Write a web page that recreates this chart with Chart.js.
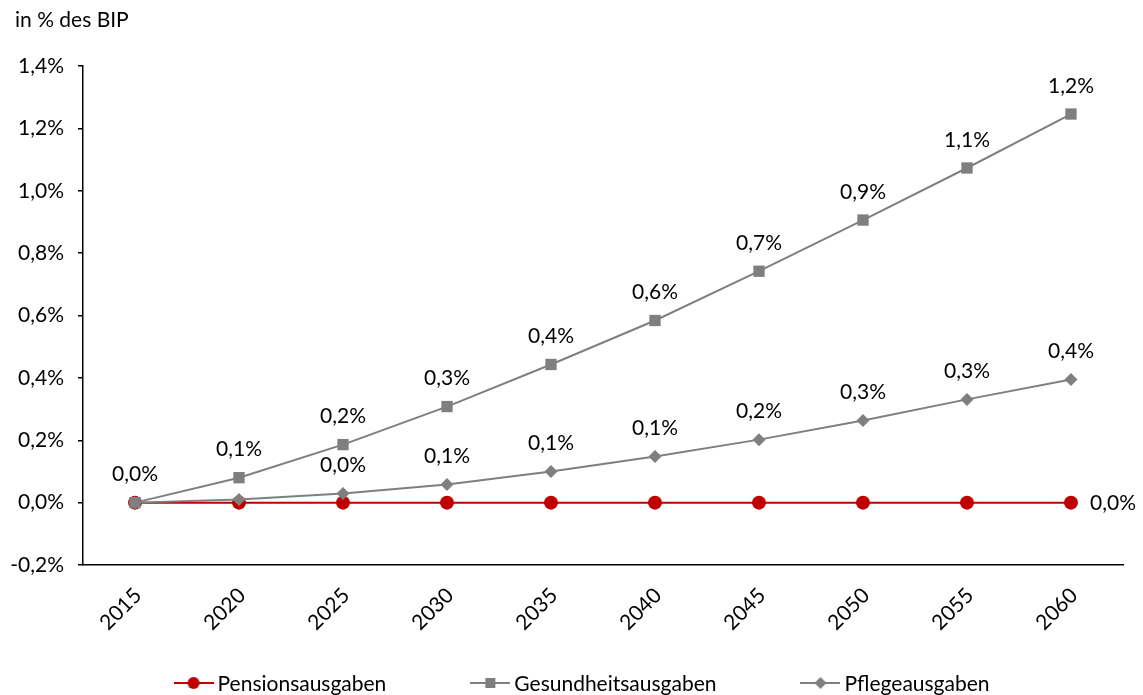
<!DOCTYPE html>
<html><head><meta charset="utf-8">
<script src="https://cdn.jsdelivr.net/npm/chart.js@4"></script>
<style>html,body{margin:0;padding:0;background:#fff}</style>
</head><body>
<canvas id="c" width="1143" height="695"></canvas>
<script>
const years = ['2015','2020','2025','2030','2035','2040','2045','2050','2055','2060'];
const pension = [0,0,0,0,0,0,0,0,0,0];
const gesundheit = [0, 0.080, 0.186, 0.308, 0.443, 0.584, 0.742, 0.906, 1.073, 1.246];
const pflege = [0, 0.010, 0.029, 0.058, 0.100, 0.148, 0.202, 0.263, 0.331, 0.395];
const seriesNames = ['Pensionsausgaben','Gesundheitsausgaben','Pflegeausgaben'];
const yTitle = 'in % des BIP';
const yMin = -0.2, yMax = 1.4, yStep = 0.2;
// which points carry a value label, and where
const pensionLabelIdx = [9];
const gesundheitLabelIdx = [0,1,2,3,4,5,6,7,8,9];
const pflegeLabelIdx = [2,3,4,5,6,7,8,9];

const FONT = 'Lato';
const FS = 21;
const RED = '#C00000', GREY = '#7F7F7F';
const fmt = v => { let r = Math.round(v * 10) / 10; if (r === 0) r = 0; return r.toFixed(1).replace('.', ',') + '%'; };

const valueLabels = {
  id: 'valueLabels',
  afterDatasetsDraw(chart) {
    const ctx = chart.ctx;
    ctx.save();
    ctx.font = FS + 'px ' + FONT;
    ctx.fillStyle = '#000';
    chart.data.datasets.forEach((ds, di) => {
      const meta = chart.getDatasetMeta(di);
      (ds.labelIdx || []).forEach(i => {
        const pt = meta.data[i];
        if (ds.labelPos === 'right') {
          ctx.textAlign = 'left'; ctx.textBaseline = 'middle';
          ctx.fillText(fmt(ds.data[i]), pt.x + 19, pt.y + 1);
        } else {
          ctx.textAlign = 'center'; ctx.textBaseline = 'middle';
          ctx.fillText(fmt(ds.data[i]), pt.x, pt.y - 28);
        }
      });
    });
    ctx.restore();
  }
};

const axisTitle = {
  id: 'axisTitle',
  afterDraw(chart) {
    const ctx = chart.ctx;
    ctx.save();
    ctx.font = FS + 'px ' + FONT;
    ctx.fillStyle = '#000'; ctx.textAlign = 'left'; ctx.textBaseline = 'middle';
    ctx.fillText(yTitle, 15, 20);
    ctx.restore();
  }
};

function legendIcon(color, style, r) {
  const c = document.createElement('canvas');
  c.width = 40; c.height = 18;
  const g = c.getContext('2d');
  g.strokeStyle = color; g.lineWidth = 2;
  g.beginPath(); g.moveTo(0, 9); g.lineTo(40, 9); g.stroke();
  g.fillStyle = color;
  g.beginPath();
  if (style === 'circle') g.arc(20, 9, r, 0, Math.PI * 2);
  else if (style === 'rect') g.rect(20 - r, 9 - r, 2 * r, 2 * r);
  else { g.moveTo(20, 9 - r); g.lineTo(20 + r, 9); g.lineTo(20, 9 + r); g.lineTo(20 - r, 9); g.closePath(); }
  g.fill();
  return c;
}

const customLegend = {
  id: 'customLegend',
  afterDraw(chart) {
    const ctx = chart.ctx;
    ctx.save();
    ctx.font = FS + 'px ' + FONT;
    const iconW = 40, gapIcon = 4, gapItem = 84;
    const items = chart.data.datasets.map(ds => ({ds, w: iconW + gapIcon + ctx.measureText(ds.label).width}));
    const total = items.reduce((s, it) => s + it.w, 0) + gapItem * (items.length - 1);
    let x = chart.width / 2 + 10 - total / 2;
    const y = 683;
    items.forEach(it => {
      ctx.drawImage(it.ds.legendIcon, x, y - 9);
      ctx.fillStyle = '#000'; ctx.textAlign = 'left'; ctx.textBaseline = 'middle';
      ctx.fillText(it.ds.label, x + iconW + gapIcon, y + 1);
      x += it.w + gapItem;
    });
    ctx.restore();
  }
};

new Chart(document.getElementById('c'), {
  type: 'line',
  data: {
    labels: years,
    datasets: [
      { label: seriesNames[0], data: pension, order: 3, borderColor: RED, backgroundColor: RED, borderWidth: 2,
        pointStyle: 'circle', pointRadius: 7, pointBorderWidth: 0, labelIdx: pensionLabelIdx, labelPos: 'right',
        legendIcon: legendIcon(RED, 'circle', 6) },
      { label: seriesNames[1], data: gesundheit, order: 2, borderColor: GREY, backgroundColor: GREY, borderWidth: 2,
        pointStyle: 'rect', pointRadius: 8, pointBorderWidth: 0, labelIdx: gesundheitLabelIdx,
        legendIcon: legendIcon(GREY, 'rect', 5) },
      { label: seriesNames[2], data: pflege, order: 1, borderColor: GREY, backgroundColor: GREY, borderWidth: 2,
        pointStyle: 'rectRot', pointRadius: 6.5, pointBorderWidth: 0, labelIdx: pflegeLabelIdx,
        legendIcon: legendIcon(GREY, 'diamond', 6) }
    ]
  },
  options: {
    responsive: false,
    animation: false,
    devicePixelRatio: 1,
    layout: { padding: { left: 5, right: 20, top: 66, bottom: 30 } },
    plugins: {
      legend: { display: false },
      tooltip: { enabled: false },
      title: { display: false }
    },
    scales: {
      x: {
        offset: true,
        grid: { display: false, drawTicks: false, offset: true },
        border: { display: true, color: '#000', width: 1.5 },
        ticks: { color: '#000', font: { family: FONT, size: FS }, maxRotation: 45, minRotation: 45, padding: 18, labelOffset: 3 },
        afterFit: s => { s.height = 100; }
      },
      y: {
        min: yMin, max: yMax,
        grid: { drawOnChartArea: false, drawTicks: true, tickLength: 5, color: '#000', lineWidth: 1.5 },
        border: { display: true, color: '#000', width: 1.5 },
        ticks: { stepSize: yStep, color: '#000', font: { family: FONT, size: FS }, padding: 14,
          callback: v => fmt(v) },
        afterFit: s => { s.width = 78; }
      }
    }
  },
  plugins: [valueLabels, axisTitle, customLegend]
});
</script>
</body></html>
